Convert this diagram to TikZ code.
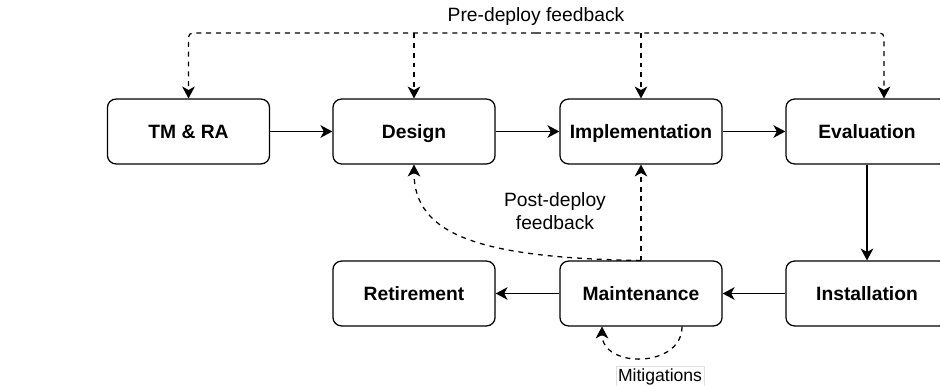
\documentclass[tikz,border=0pt]{standalone}
\usepackage{fontspec}
\setmainfont{Liberation Sans}
\usetikzlibrary{arrows.meta}

\begin{document}
\begin{tikzpicture}[
    x=0.025cm, y=-0.025cm,
    phase/.style={rectangle, draw, rounded corners=6pt, line width=0.9pt, minimum width=4.05cm, minimum height=1.62cm, text height=9.8pt, text depth=0pt, align=center, font=\fontsize{13.7}{16}\selectfont\bfseries},
    flow/.style={-{Stealth[length=8.5pt, width=9pt, inset=2.5pt]}, line width=0.9pt},
    feedback/.style={flow, dash pattern=on 3.5pt off 3.5pt},
    lbl/.style={font=\fontsize{13.7}{16.4}\selectfont, align=center}
]
    \useasboundingbox (0,0) rectangle (940,386);

    % Top row
    \node[phase] (tmra) at (188.5,131.5) {TM \& RA};
    \node[phase] (design) at (414,131.5) {Design};
    \node[phase] (impl) at (641,131.5) {Implementation};
    \node[phase] (eval) at (867,131.5) {Evaluation};

    % Bottom row
    \node[phase] (retire) at (414,293.5) {Retirement};
    \node[phase] (maint) at (641,293.5) {Maintenance};
    \node[phase] (install) at (867,293.5) {Installation};

    % Main flow
    \draw[flow] (tmra) -- (design);
    \draw[flow] (design) -- (impl);
    \draw[flow] (impl) -- (eval);
    \draw[flow] (eval) -- (install);
    \draw[flow] (install) -- (maint);
    \draw[flow] (maint) -- (retire);

    % Pre-deploy feedback
    \coordinate (pre) at (536,33);
    \coordinate (evaltop) at ([xshift=0.425cm]eval.north);
    \node[lbl] (prelbl) at (536,17) {Pre-deploy feedback};
    \draw[feedback, rounded corners=3pt] (pre) -| (tmra.north);
    \draw[feedback, rounded corners=3pt] (pre) -| (evaltop);
    \draw[feedback] (design.north |- pre) -- (design.north);
    \draw[feedback] (impl.north |- pre) -- (impl.north);

    % Post-deploy feedback
    \node[lbl] (postlbl) at (555,211) {Post-deploy\\feedback};
    \draw[feedback] (maint.north) -- (impl.south);
    \draw[feedback] (maint.north) .. controls (480,258) and (414,235) .. (design.south);

    % Mitigations loop
    \draw[feedback] ([xshift=1.025cm]maint.south) .. controls +(0,42) and +(0,42) .. ([xshift=-0.975cm]maint.south);
    \node[lbl, font=\fontsize{12.5}{15}\selectfont, draw=gray!25, line width=0.4pt, inner sep=1.5pt] (mitlbl) at (660,377) {Mitigations};
\end{tikzpicture}
\end{document}
